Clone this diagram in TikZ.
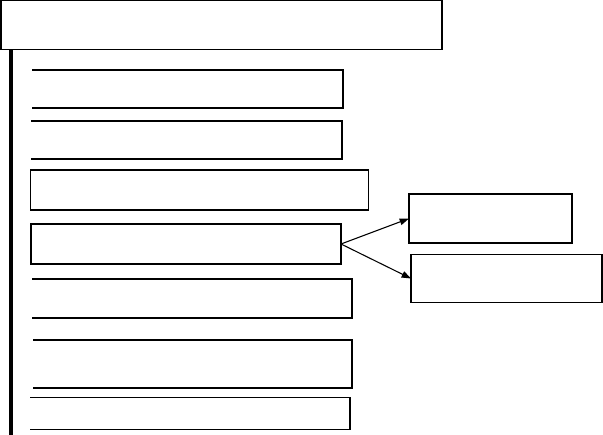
\documentclass[tikz,border=0pt]{standalone}
\usetikzlibrary{arrows.meta}
\begin{document}
\begin{tikzpicture}[x=0.75pt,y=-0.75pt,
  line width=0.8pt,
  boxbase/.style 2 args={anchor=north west,inner sep=0pt,outer sep=0pt,
    minimum width=#1*0.75pt,minimum height=#2*0.75pt},
  fullbox/.style 2 args={boxbase={#1}{#2},draw},
  openbox/.style 2 args={boxbase={#1}{#2},draw=none},
  link/.style={-{Triangle[length=7pt,width=5pt]}}]
\useasboundingbox (0,0) rectangle (603,435);
% top box
\node[fullbox={441}{49}] (top) at (1,0.5) {};
% vertical bar
\coordinate (bartop) at (10.7,49.5);
\coordinate (barbot) at (10.7,435);
\draw[line width=2.7pt] (bartop) -- (barbot);
% boxes
\node[openbox={311}{38}] (b1) at (32,70) {};
\node[openbox={311}{38}] (b2) at (31,121) {};
\node[fullbox={338}{40}] (b3) at (30.5,170) {};
\node[fullbox={310}{40}] (b4) at (31,224) {};
\node[openbox={320}{39}] (b5) at (32,279) {};
\node[openbox={319}{48}] (b6) at (33,340) {};
\node[openbox={320}{32}] (b7) at (30,397.5) {};
\foreach \b in {b1,b2,b5,b6,b7}{
  \draw (\b.north west) -- (\b.north east) -- (\b.south east) -- (\b.south west);
}
% right boxes
\node[fullbox={163}{49}] (ra) at (409,194) {};
\node[fullbox={191}{48}] (rb) at (411,254.5) {};
% arrows
\draw[link] (b4.east) -- (ra.west);
\draw[link] (b4.east) -- (rb.west);
\end{tikzpicture}
\end{document}
